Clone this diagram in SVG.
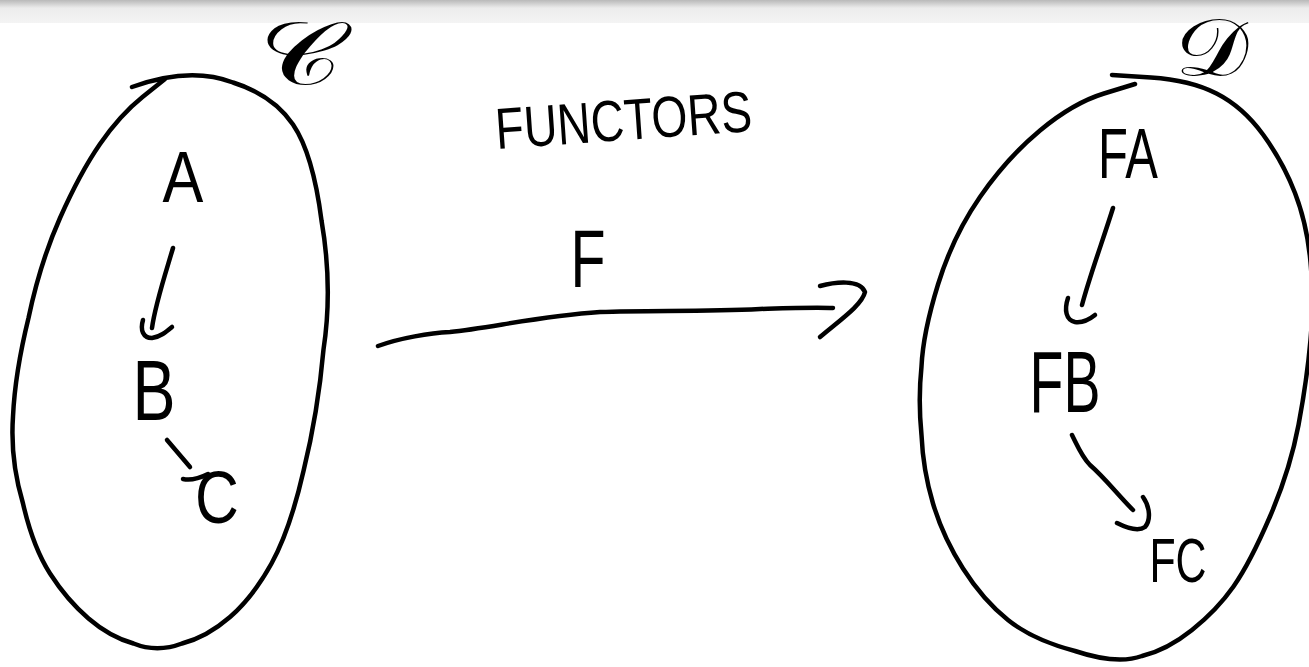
<svg xmlns="http://www.w3.org/2000/svg" width="1309" height="667" viewBox="0 0 1309 667">
<defs>
<linearGradient id="topbar" x1="0" y1="0" x2="0" y2="1">
<stop offset="0" stop-color="#b9b9b9"/>
<stop offset="0.35" stop-color="#ececec"/>
<stop offset="1" stop-color="#f4f4f4"/>
</linearGradient>
<style>
.stroke{fill:none;stroke:#000;stroke-width:4.5;stroke-linecap:round;stroke-linejoin:round}
.hand{font-family:"Liberation Sans","DejaVu Sans",sans-serif;fill:#000;text-anchor:middle}
.script{font-family:"DejaVu Sans","DejaVu Serif",serif;fill:#000;text-anchor:middle}
</style>
</defs>
<rect x="0" y="0" width="1309" height="667" fill="#fff"/>
<rect x="0" y="0" width="1309" height="23" fill="url(#topbar)"/>

<g id="category-C">
<path class="stroke" d="M165,79 L142.5,97 Q120,115 100,144 Q80,173 60,218 Q40,263 28.5,318 Q15,373 13,416.5 Q10,460 23,503.5 Q33,547 50,573.5 Q67,600 88.5,618.5 Q110,637 133.5,643.5 Q157,653 182,643.5 Q207,637 230,617 Q253,597 271.5,563.5 Q290,530 303.5,471 Q318,412 323.5,349.5 Q333,287 321.5,220.5 Q313,154 293,124.5 Q273,95 233,82.5 Q190,66 132,87"/>
<text class="script" font-size="88" transform="translate(300,84) scale(1.3,1)">𝒞</text>
</g>

<g id="category-D">
<path class="stroke" d="M1112,75 L1151,77.5 Q1190,80 1216.5,93.5 Q1243,107 1263,134.5 Q1283,162 1295,193 Q1307,224 1310.5,262 Q1314,300 1310.5,340 Q1307,380 1298.5,425 Q1290,470 1270,516.5 Q1250,563 1233.5,586.5 Q1217,610 1192,630 Q1167,650 1142,656 Q1117,665 1075,651 Q1033,640 1008,620 Q983,600 963,568.5 Q943,537 933,503.5 Q923,470 921.5,435 Q918,400 921.5,366.5 Q923,333 938,284.5 Q953,236 980,197 Q1007,158 1040,130.5 Q1073,103 1104,93.5 L1135,84"/>
<text class="script" font-size="80" transform="translate(1212,75) scale(1.15,1)">𝒟</text>
</g>

<g id="title">
<text class="hand" font-size="58" transform="translate(625,140) rotate(-4) scale(0.8,1)">FUNCTORS</text>
</g>

<g id="node-A"><text class="hand" font-size="72" transform="translate(183,202) scale(0.85,1)">A</text></g>
<g id="node-B"><text class="hand" font-size="86" transform="translate(154,420) scale(0.75,1)">B</text></g>
<g id="node-C"><text class="hand" font-size="74" transform="translate(217,523) scale(0.82,1)">C</text></g>
<g id="node-FA"><text class="hand" font-size="70" transform="translate(1128,178) scale(0.7,1)">FA</text></g>
<g id="node-FB"><text class="hand" font-size="88" transform="translate(1065,412) scale(0.63,1)">FB</text></g>
<g id="node-FC"><text class="hand" font-size="63" transform="translate(1178,582) scale(0.68,1)">FC</text></g>
<g id="label-F"><text class="hand" font-size="82" transform="translate(588,287) scale(0.7,1)">F</text></g>

<g id="connectors">
<path class="stroke" d="M173,248 C165,275 155,305 152,328"/>
<path class="stroke" d="M143,320 C140,330 143,338 152,338 C160,337 166,332 172,327"/>
<path class="stroke" d="M167,440 L190,467"/>
<path class="stroke" d="M183,479 C192,481 200,478 208,474"/>
<path class="stroke" d="M378,346 C400,338 430,333 450,332 C490,328 540,316 600,312 C650,310 700,312 760,309 C790,308 815,307 833,308"/>
<path class="stroke" d="M820,286 C835,282 860,279 865,292 C862,305 840,320 820,337"/>
<path class="stroke" d="M1113,208 C1103,240 1090,275 1082,305"/>
<path class="stroke" d="M1068,298 C1064,310 1066,320 1075,322 C1082,323 1090,319 1095,315"/>
<path class="stroke" d="M1072,435 C1078,447 1082,457 1090,465 C1105,478 1118,495 1133,510"/>
<path class="stroke" d="M1143,497 C1150,507 1151,520 1145,527 C1138,532 1127,528 1117,523"/>
</g>
</svg>
